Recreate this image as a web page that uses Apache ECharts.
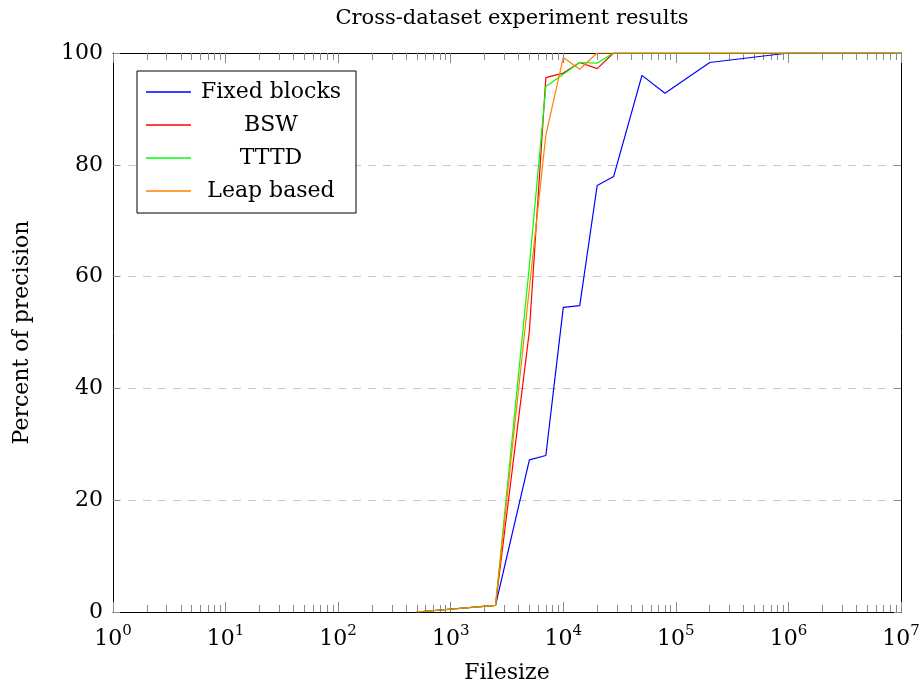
<!DOCTYPE html>
<html>
<head>
<meta charset="utf-8">
<script src="https://cdn.jsdelivr.net/npm/echarts@6/dist/echarts.min.js"></script>
<style>html,body{margin:0;padding:0;background:#fff}#c{width:924px;height:689px}</style>
</head>
<body>
<div id="c"></div>
<script>
var FONT = '"DejaVu Serif", "Liberation Serif", serif';
var filesizes = [500, 2500, 5000, 7000, 10000, 14000, 20000, 28000, 50000, 80000, 200000, 1000000, 10000000];
var fixedBlocks = [0, 1.2, 27.2, 28.0, 54.5, 54.8, 76.3, 77.9, 96.0, 92.8, 98.3, 100, 100];
var bsw         = [0, 1.2, 50.3, 95.6, 96.4, 98.3, 97.2, 100, 100, 100, 100, 100, 100];
var tttd        = [0, 1.2, 62.0, 94.0, 96.2, 98.3, 98.2, 100, 100, 100, 100, 100, 100];
var leapBased   = [0, 1.2, 58.0, 85.3, 99.2, 97.1, 100, 100, 100, 100, 100, 100, 100];
var seriesNames = ['Fixed blocks', 'BSW', 'TTTD', 'Leap based'];
var seriesColors = ['#0000ff', '#ff0000', '#00ff00', '#ff8000'];
var yTicks = [0, 20, 40, 60, 80, 100];

// minor tick positions (log10 space) for 2..9 within each decade
var minorTicks = [];
for (var d = 0; d < 7; d++) {
  for (var k = 2; k <= 9; k++) minorTicks.push(d + Math.log10(k));
}

function pairs(vals) {
  return filesizes.map(function (x, i) { return [x, vals[i]]; });
}

var chart = echarts.init(document.getElementById('c'), null, {renderer: 'canvas'});
var allVals = [fixedBlocks, bsw, tttd, leapBased];

var tickGray = '#8a8a8a';
function minorAxis(pos) {
  return {
    type: 'value', gridIndex: 0, position: pos, min: 0, max: 7,
    axisLine: {show: false, onZero: false},
    axisTick: {show: true, inside: true, length: 7, customValues: minorTicks, lineStyle: {color: tickGray, width: 1}},
    axisLabel: {show: false}, splitLine: {show: false}
  };
}

var option = {
  animation: false,
  backgroundColor: '#fff',
  title: {
    text: 'Cross-dataset experiment results',
    left: 507, top: 3, textAlign: 'center',
    textStyle: {fontFamily: FONT, fontSize: 21, fontWeight: 'normal', color: '#000'}
  },
  grid: {left: 113, right: 23, top: 53, bottom: 75, containLabel: false},
  legend: {
    orient: 'vertical', left: 137, top: 71,
    padding: [10, 10, 11, 9], itemGap: 11,
    itemWidth: 45, itemHeight: 14,
    borderColor: '#000', borderWidth: 1, backgroundColor: '#fff',
    data: seriesNames.map(function (n) { return {name: n, icon: 'path://M0,0L45,0L45,1.3L0,1.3Z'}; }),
    formatter: function (n) { return '{c|' + n + '}'; },
    textStyle: {
      fontFamily: FONT, fontSize: 22, color: '#000',
      rich: {c: {fontFamily: FONT, fontSize: 22, color: '#000', width: 150, align: 'center', lineHeight: 22}}
    }
  },
  xAxis: [
    {
      type: 'log', logBase: 10, min: 1, max: 10000000, position: 'bottom',
      name: 'Filesize', nameLocation: 'middle', nameGap: 50,
      nameTextStyle: {fontFamily: FONT, fontSize: 22, color: '#000'},
      axisLine: {show: true, onZero: false, lineStyle: {color: '#000', width: 1}},
      axisTick: {show: true, inside: true, length: 10, lineStyle: {color: tickGray, width: 1}},
      axisLabel: {
        margin: 12,
        formatter: function (v) { return '{b|10}{s|' + Math.round(Math.log10(v)) + '}'; },
        rich: {
          b: {fontFamily: FONT, fontSize: 22, color: '#000', lineHeight: 26, verticalAlign: 'bottom'},
          s: {fontFamily: FONT, fontSize: 15, color: '#000', lineHeight: 16, verticalAlign: 'top'}
        }
      },
      splitLine: {show: false}, minorTick: {show: false}
    },
    {
      type: 'log', logBase: 10, min: 1, max: 10000000, position: 'top',
      axisLine: {show: true, onZero: false, lineStyle: {color: '#000', width: 1}},
      axisTick: {show: true, inside: true, length: 10, lineStyle: {color: tickGray, width: 1}},
      axisLabel: {show: false}, splitLine: {show: false}
    },
    minorAxis('bottom'),
    minorAxis('top')
  ],
  yAxis: [
    {
      type: 'value', min: yTicks[0], max: yTicks[yTicks.length - 1], interval: 20, position: 'left',
      name: 'Percent of precision', nameLocation: 'middle', nameGap: 80,
      nameTextStyle: {fontFamily: FONT, fontSize: 22, color: '#000'},
      axisLine: {show: true, onZero: false, lineStyle: {color: '#000', width: 1}},
      axisTick: {show: true, inside: true, length: 7, lineStyle: {color: tickGray, width: 1}},
      axisLabel: {margin: 10, fontFamily: FONT, fontSize: 22, color: '#000'},
      splitLine: {show: true, lineStyle: {color: '#c8c8c8', width: 1, type: [8, 7]}}
    },
    {
      type: 'value', min: yTicks[0], max: yTicks[yTicks.length - 1], interval: 20, position: 'right',
      axisLine: {show: true, onZero: false, lineStyle: {color: '#000', width: 1}},
      axisTick: {show: true, inside: true, length: 7, lineStyle: {color: tickGray, width: 1}},
      axisLabel: {show: false}, splitLine: {show: false}
    }
  ],
  series: seriesNames.map(function (n, i) {
    return {
      name: n, type: 'line', xAxisIndex: 0, yAxisIndex: 0,
      data: pairs(allVals[i]),
      symbol: 'none', showSymbol: false,
      color: seriesColors[i],
      lineStyle: {color: seriesColors[i], width: 1.2},
      z: 2 + i
    };
  })
};
chart.setOption(option);
</script>
</body>
</html>
